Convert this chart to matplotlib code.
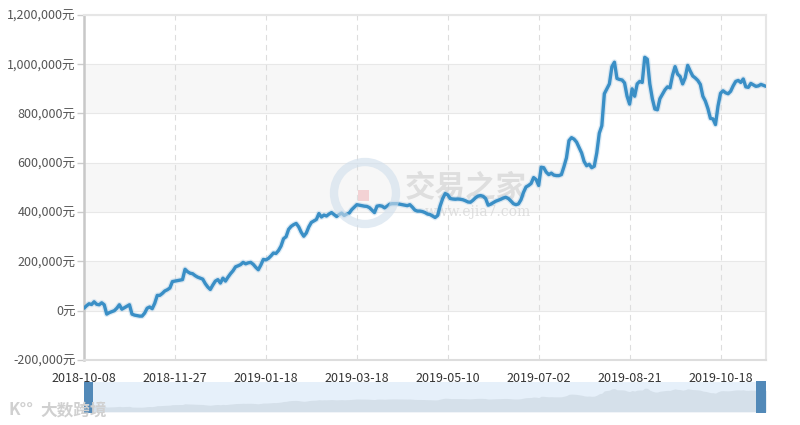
import matplotlib
matplotlib.use("Agg")
import matplotlib.pyplot as plt
from matplotlib.patches import Rectangle, Circle
from matplotlib.ticker import FuncFormatter

plt.rcParams['font.family'] = ['Noto Sans CJK SC', 'DejaVu Sans']

# x-axis labels, one every 36 trading days
tick_labels = ['2018-10-08', '2018-11-27', '2019-01-18', '2019-03-18',
               '2019-05-10', '2019-07-02', '2019-08-21', '2019-10-18']
tick_step = 36

# cumulative profit, thousands of yuan, one value per trading day
profit_k = [
    10, 20, 28, 25, 36, 26, 24, 32, 24, -14,
    -8, -4, 0, 10, 24, 6, 12, 18, 24, -14,
    -18, -20, -22, -22, -10, 10, 15, 8, 30, 62,
    62, 70, 80, 85, 92, 118, 120, 122, 124, 126,
    168, 158, 152, 150, 142, 136, 132, 128, 110, 96,
    86, 104, 120, 126, 112, 132, 120, 136, 150, 162,
    178, 182, 187, 196, 190, 194, 196, 188, 176, 166,
    185, 208, 206, 212, 222, 234, 232, 244, 262, 292,
    300, 330, 342, 349, 354, 340, 318, 302, 315, 340,
    358, 364, 370, 394, 380, 388, 384, 392, 398, 390,
    382, 390, 396, 386, 392, 396, 410, 420, 430, 428,
    426, 424, 423, 418, 408, 398, 424, 426, 424, 417,
    424, 432, 434, 434, 434, 432, 430, 428, 426, 430,
    420, 408, 404, 404, 402, 398, 392, 390, 384, 378,
    386, 425, 455, 475, 470, 455, 453, 452, 453, 452,
    450, 446, 441, 440, 448, 458, 465, 467, 464, 455,
    428, 432, 438, 444, 448, 452, 457, 460, 455, 445,
    434, 430, 433, 450, 480, 502, 508, 516, 540, 532,
    508, 582, 580, 562, 552, 558, 550, 548, 548, 552,
    584, 620, 690, 702, 696, 684, 662, 640, 605, 588,
    594, 580, 586, 640, 720, 750, 880, 900, 920, 990,
    1008, 942, 938, 936, 924, 870, 838, 900, 870, 920,
    930, 926, 1028, 1020, 920, 860, 818, 815, 860, 878,
    896, 908, 904, 955, 990, 960, 950, 920, 945, 995,
    972, 952, 944, 934, 918, 870, 850, 820, 780, 778,
    755, 830, 882, 892, 884, 880, 890, 912, 930, 934,
    926, 940, 908, 906, 922, 916, 910, 912, 918, 914,
    910,
]
profit = [v * 1000 for v in profit_k]
days = list(range(len(profit)))

y_ticks = [-200000, 0, 200000, 400000, 600000, 800000, 1000000, 1200000]
shaded_bands = [(0, 200000), (400000, 600000), (800000, 1000000)]

line_color = '#3a8fc6'

fig = plt.figure(figsize=(8, 4.25), dpi=100)
ax = fig.add_axes([0.105, 0.153, 0.8525, 0.812])

for lo, hi in shaded_bands:
    ax.axhspan(lo, hi, color='#f7f7f7', zorder=0, lw=0)
for y in y_ticks:
    ax.axhline(y, color='#e8e8e8', lw=0.8, zorder=1)
for i in range(tick_step, len(days), tick_step):
    ax.axvline(i, color='#dddddd', lw=0.8, ls=(0, (5, 4)), zorder=1)

# soft shadow under the line
ax.plot(days, profit, color='#9fc6e3', lw=4.2, alpha=0.35, zorder=2,
        solid_joinstyle='round')
ax.plot(days, profit, color=line_color, lw=2.4, zorder=3,
        solid_joinstyle='round', solid_capstyle='round')

ax.set_xlim(0, len(days) - 1)
ax.set_ylim(-200000, 1200000)
ax.set_yticks(y_ticks)
ax.yaxis.set_major_formatter(FuncFormatter(lambda v, p: f'{int(v):,}元'))
ax.set_xticks(range(0, len(days), tick_step))
ax.set_xticklabels(tick_labels)

ax.tick_params(axis='y', length=5, width=1, color='#cccccc',
               labelsize=9, labelcolor='#555555', pad=1)
ax.tick_params(axis='x', length=0, labelsize=9, labelcolor='#333333', pad=9)

for side in ['top', 'right']:
    ax.spines[side].set_color('#e6e6e6')
    ax.spines[side].set_linewidth(1.5)
ax.spines['left'].set_color('#c8c8c8')
ax.spines['left'].set_linewidth(1.8)
ax.spines['bottom'].set_color('#dddddd')
ax.spines['bottom'].set_linewidth(1.5)

# faint watermark (positions in inches so the ring stays round)
fig.add_artist(Circle((3.65, 2.32), 0.31, transform=fig.dpi_scale_trans,
                      fill=False, ec='#cfdeec', lw=6, alpha=0.6, zorder=1.5))
fig.add_artist(Rectangle((3.58, 2.24), 0.11, 0.11,
                         transform=fig.dpi_scale_trans,
                         color='#f2c9cc', alpha=0.8, zorder=1.5, lw=0))
ax.text(0.47, 0.5, '交易之家', transform=ax.transAxes, fontsize=22,
        color='#d8d8d8', alpha=0.8, fontweight='bold', zorder=1.5,
        va='center', family=['Noto Sans CJK SC'])
ax.text(0.5, 0.43, 'www.ejia7.com', transform=ax.transAxes, fontsize=10,
        color='#d8d8d8', alpha=0.8, zorder=1.5, va='center',
        family=['DejaVu Serif'])

# data zoom slider under the chart
sl = fig.add_axes([0.105, 0.031, 0.8525, 0.071])
sl.set_facecolor('#e6f0fa')
sl.fill_between(days, profit, -278000, color='#d5e0ea', lw=0)
sl.set_xlim(0, len(days) - 1)
sl.set_ylim(-278000, 1389000)
sl.set_xticks([])
sl.set_yticks([])
for s in sl.spines.values():
    s.set_visible(False)

fig.add_artist(Rectangle((84 / 800, 1 - 413 / 425), 9 / 800, 31 / 425,
                         color='#5289b8', lw=0))
fig.add_artist(Rectangle((756 / 800, 1 - 413 / 425), 10 / 800, 32 / 425,
                         color='#5289b8', lw=0))
fig.text(0.05, 1 - 410 / 425, '大数跨境', fontsize=12, color='#d0d0d0',
         va='center', fontweight='bold')
fig.text(0.01, 1 - 410 / 425, 'K°°', fontsize=12, color='#d0d0d0',
         va='center', fontweight='bold')

fig.savefig('out.png', dpi=100)
